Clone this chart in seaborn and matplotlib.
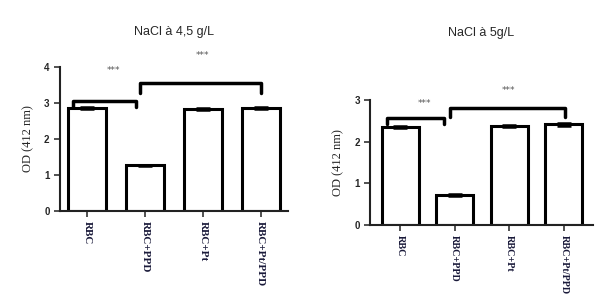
import pandas as pd
import matplotlib
matplotlib.use('Agg')
import matplotlib.pyplot as plt
import seaborn as sns

groups = ['RBC', 'RBC+PPD', 'RBC+Pt', 'RBC+Pt/PPD']
od_45 = [2.87, 1.27, 2.84, 2.86]   # NaCl 4,5 g/L
sem_45 = [0.03, 0.02, 0.02, 0.03]
od_5 = [2.35, 0.72, 2.38, 2.42]    # NaCl 5 g/L
sem_5 = [0.03, 0.02, 0.03, 0.03]

sns.set_style('ticks')

fig = plt.figure(figsize=(6, 2.98), dpi=100)
ax1 = fig.add_axes([0.10, 0.292, 0.38, 0.483])
ax2 = fig.add_axes([0.617, 0.245, 0.371, 0.419])


def draw_panel(ax, vals, sems, title, ymax, xlim, title_y, brackets, stars, width, xfs):
    df = pd.DataFrame({'Group': groups, 'OD': vals})
    sns.barplot(data=df, x='Group', y='OD', ax=ax, color='white', edgecolor='black',
                linewidth=2.2, width=width, errorbar=None)
    ax.errorbar(range(len(groups)), vals, yerr=sems, fmt='none', ecolor='black',
                elinewidth=1, capsize=5, capthick=1.8)
    ax.set_ylim(0, ymax)
    ax.set_xlim(*xlim)
    ax.set_yticks(range(ymax + 1))
    sns.despine(ax=ax)
    for s in ['left', 'bottom']:
        ax.spines[s].set_linewidth(1.5)
        ax.spines[s].set_color('#222222')
    ax.tick_params(axis='both', length=4, width=1.2, color='#333333')
    ax.set_yticklabels([str(t) for t in range(ymax + 1)], fontsize=7, fontweight='bold',
                       family='Liberation Sans')
    ax.set_xticklabels(groups, rotation=270, fontsize=xfs, fontweight='bold',
                       family='Liberation Serif', color='#1a1a3a')
    ax.set_xlabel('')
    ax.set_ylabel('OD (412 nm)', family='Liberation Serif', fontsize=9, labelpad=7)
    ax.set_title(title, family='Liberation Sans', fontsize=9, y=title_y)
    for x0, x1, yb, yt in brackets:
        ax.plot([x0, x0, x1, x1], [yb, yt, yt, yb], color='black', lw=2.5,
                solid_joinstyle='round', clip_on=False)
    for xs, ys in stars:
        ax.text(xs, ys, '***', ha='center', va='center', fontsize=6.5, color='#555555')


draw_panel(ax1, od_45, sem_45, 'NaCl à 4,5 g/L', 4, (-0.47, 3.47), 1.165,
           [(-0.24, 0.84, 2.9, 3.05), (0.92, 3.0, 3.27, 3.55)],
           [(0.45, 3.9), (2.0, 4.33)], 0.65, 8)
draw_panel(ax2, od_5, sem_5, 'NaCl à 5g/L', 3, (-0.55, 3.53), 1.45,
           [(-0.24, 0.8, 2.42, 2.57), (0.92, 3.02, 2.6, 2.81)],
           [(0.45, 2.92), (1.98, 3.24)], 0.68, 7.3)

fig.savefig('out.png', dpi=100)
